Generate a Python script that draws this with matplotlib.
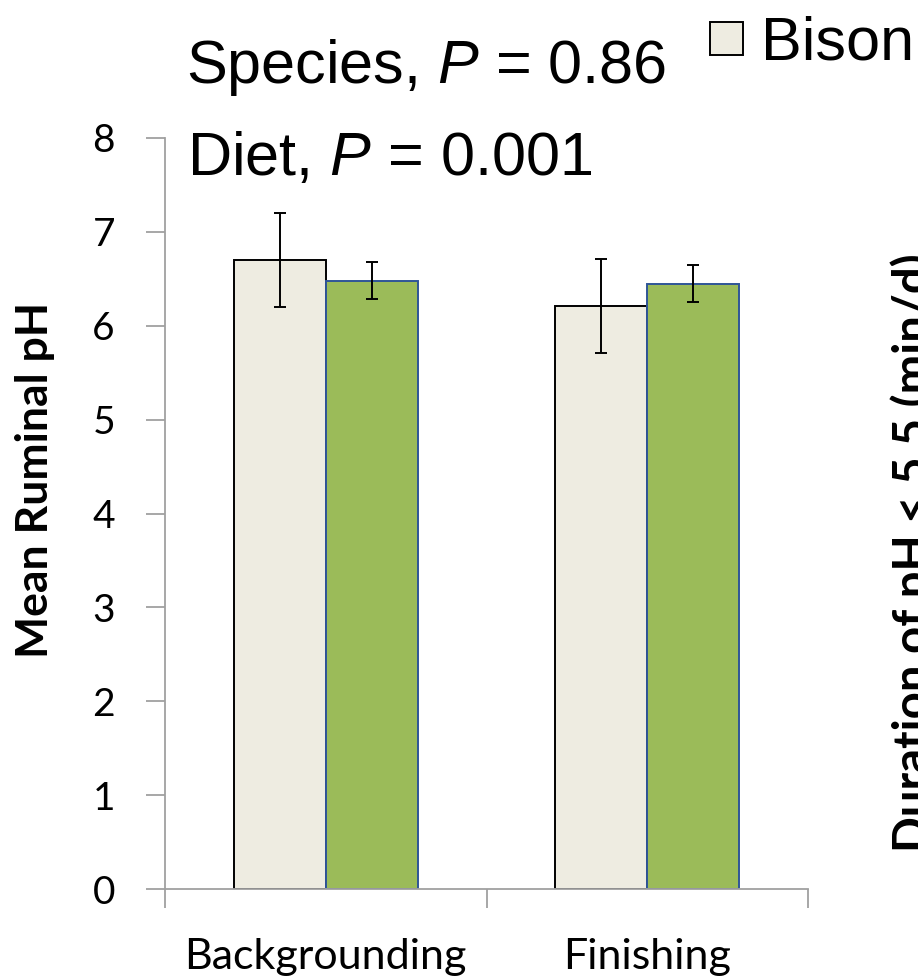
import numpy as np
from matplotlib import pyplot as plt
from matplotlib.patches import Rectangle

plt.rcParams["mathtext.fontset"] = "custom"
plt.rcParams["mathtext.rm"] = "Liberation Sans"
plt.rcParams["mathtext.it"] = "Liberation Sans:italic"

# data
diets = ["Backgrounding", "Finishing"]
bison_ph = [6.70, 6.21]
bison_err = [0.50, 0.50]
cattle_ph = [6.48, 6.45]
cattle_err = [0.20, 0.20]

W, H = 918, 976
fig = plt.figure(figsize=(W / 100, H / 100), dpi=100)
ax = fig.add_axes([165 / W, 1 - 889 / H, (808 - 165) / W, (889 - 138) / H])

x = np.arange(len(diets)) + 0.5
bw = 0.286
ekw = dict(ecolor="black", elinewidth=1.4, capsize=4.5, capthick=1.4)
ax.bar(x - bw / 2, bison_ph, bw, color="#EEECE1", edgecolor="black", linewidth=1.4,
       yerr=bison_err, error_kw=ekw, zorder=2)
ax.bar(x + bw / 2, cattle_ph, bw, color="#9BBB59", edgecolor="#2F5597", linewidth=1.4,
       yerr=cattle_err, error_kw=ekw, zorder=2)

ax.set_xlim(0, 2)
ax.set_ylim(0, 8)
ax.set_yticks(range(0, 9))
ax.set_xticks([0, 1, 2])
ax.set_xticklabels([])
ax.set_xticks(x, minor=True)
ax.set_xticklabels(diets, minor=True, fontsize=31, family="Lato")
ax.tick_params(axis="x", which="minor", length=0, pad=35)
ax.tick_params(axis="x", which="major", direction="out", length=14, color="#A0A0A0", width=1.3)
ax.tick_params(axis="y", direction="out", length=14, color="#A0A0A0", width=1.3, pad=22, labelsize=28)
for lab in ax.get_yticklabels():
    lab.set_family("Lato")
for s in ["top", "right"]:
    ax.spines[s].set_visible(False)
for s in ["left", "bottom"]:
    ax.spines[s].set_color("#A0A0A0")
    ax.spines[s].set_linewidth(1.3)

fig.text(35 / W, 1 - 480 / H, "Mean Ruminal pH", fontsize=32, fontweight="bold", family="Lato",
         rotation=90, ha="center", va="center")

fig.text(186 / W, 1 - 83 / H, "Species, $\\mathit{P}$ = 0.86", fontsize=44, family="Liberation Sans")
fig.text(187 / W, 1 - 175 / H, "Diet, $\\mathit{P}$ = 0.001", fontsize=44, family="Liberation Sans")

# legend fragment
fig.patches.append(Rectangle((710 / W, 1 - 55 / H), 33 / W, 33 / H, transform=fig.transFigure,
                             facecolor="#EEECE1", edgecolor="black", linewidth=1.4))
fig.text(761 / W, 1 - 60 / H, "Bison", fontsize=44, family="Liberation Sans")

fig.text(890 / W, 1 - 553 / H, "Duration of pH < 5.5 (min/d)", fontsize=34, fontweight="bold",
         family="Lato", rotation=90, ha="left", va="center")

plt.savefig("out.png", dpi=100)
